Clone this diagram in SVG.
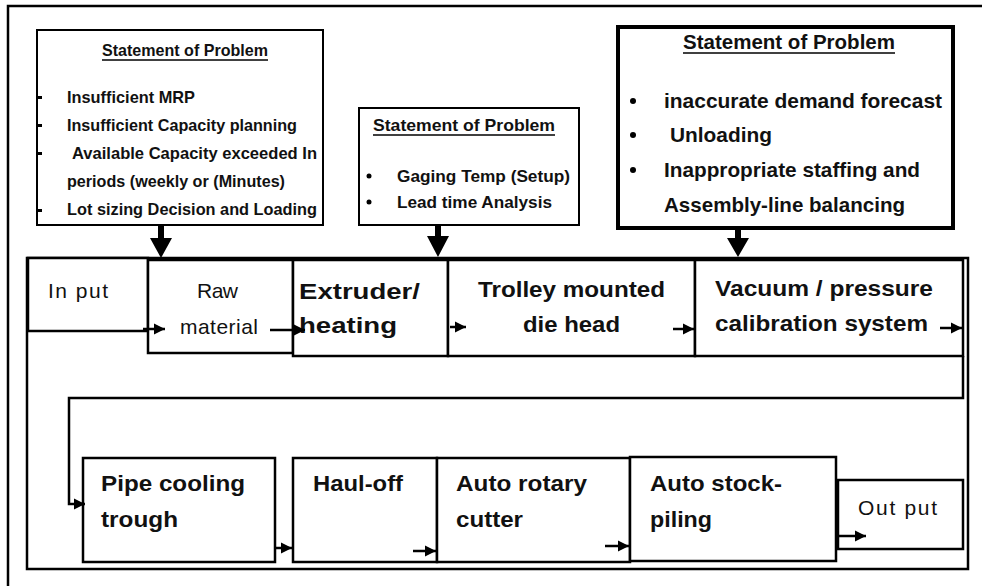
<svg xmlns="http://www.w3.org/2000/svg" width="982" height="586" viewBox="0 0 982 586">
  <style>
    .frame { fill: none; stroke: #000; stroke-width: 2.5; }
    .box { fill: #fff; stroke: #000; stroke-width: 2.5; }
    .sp { fill: #fff; stroke: #000; stroke-width: 2; }
    .sp-heavy { fill: #fff; stroke: #000; stroke-width: 4; }
    .conn { fill: none; stroke: #000; stroke-width: 2.5; }
    .uline { stroke: #000; stroke-width: 1.5; }
    text { font-family: "Liberation Sans", Arial, sans-serif; fill: #111; }
    .b { font-weight: bold; }
    .sm { font-size: 17px; }
    .md { font-size: 21px; }
    .lg { font-size: 22px; }
    .rg { font-size: 21px; font-weight: normal; }
    .dot { fill: #000; }
  </style>
  <defs>
    <marker id="ah" viewBox="0 0 10 10" refX="10" refY="5" markerWidth="4.5" markerHeight="4.5" markerUnits="strokeWidth" orient="auto">
      <path d="M0,0 L10,5 L0,10 Z" fill="#000"/>
    </marker>
  </defs>

  <rect width="982" height="586" fill="#fff"/>

  <!-- outer page frame -->
  <path class="frame" d="M8,586 V6 H982"/>

  <!-- statement of problem: planning -->
  <g id="problem-planning">
    <rect class="sp" x="37" y="30" width="286" height="195"/>
    <text class="b sm" x="102" y="56" textLength="166" lengthAdjust="spacingAndGlyphs">Statement of Problem</text>
    <line class="uline" x1="102" y1="60" x2="268" y2="60"/>
    <rect class="dot" x="37" y="96" width="5" height="3"/>
    <rect class="dot" x="37" y="124" width="5" height="3"/>
    <rect class="dot" x="37" y="152" width="5" height="3"/>
    <rect class="dot" x="37" y="209" width="5" height="3"/>
    <text class="b sm" x="67" y="103" textLength="128" lengthAdjust="spacingAndGlyphs">Insufficient MRP</text>
    <text class="b sm" x="67" y="131" textLength="230" lengthAdjust="spacingAndGlyphs">Insufficient Capacity planning</text>
    <text class="b sm" x="72" y="159" textLength="245" lengthAdjust="spacingAndGlyphs">Available Capacity exceeded  In</text>
    <text class="b sm" x="67" y="187" textLength="218" lengthAdjust="spacingAndGlyphs">periods (weekly or (Minutes)</text>
    <text class="b sm" x="67" y="215" textLength="250" lengthAdjust="spacingAndGlyphs">Lot sizing Decision and Loading</text>
  </g>

  <!-- statement of problem: setup -->
  <g id="problem-setup">
    <rect class="sp" x="359" y="108" width="220" height="117"/>
    <text class="b sm" x="373" y="131" textLength="182" lengthAdjust="spacingAndGlyphs">Statement of Problem</text>
    <line class="uline" x1="373" y1="135" x2="555" y2="135"/>
    <circle class="dot" cx="369" cy="176" r="2.5"/>
    <circle class="dot" cx="369" cy="202" r="2.5"/>
    <text class="b sm" x="397" y="182" textLength="173" lengthAdjust="spacingAndGlyphs">Gaging Temp (Setup)</text>
    <text class="b sm" x="397" y="208" textLength="155" lengthAdjust="spacingAndGlyphs">Lead time Analysis</text>
  </g>

  <!-- statement of problem: demand and staffing -->
  <g id="problem-demand">
    <rect class="sp-heavy" x="618" y="27" width="335" height="201"/>
    <text class="b md" x="683" y="49" textLength="212" lengthAdjust="spacingAndGlyphs">Statement of Problem</text>
    <line class="uline" x1="683" y1="53" x2="895" y2="53"/>
    <circle class="dot" cx="633" cy="101" r="3"/>
    <circle class="dot" cx="633" cy="135" r="3"/>
    <circle class="dot" cx="633" cy="170" r="3"/>
    <text class="b md" x="664" y="108" textLength="278" lengthAdjust="spacingAndGlyphs">inaccurate demand forecast</text>
    <text class="b md" x="670" y="142" textLength="102" lengthAdjust="spacingAndGlyphs">Unloading</text>
    <text class="b md" x="664" y="177" textLength="256" lengthAdjust="spacingAndGlyphs">Inappropriate staffing and</text>
    <text class="b md" x="664" y="212" textLength="241" lengthAdjust="spacingAndGlyphs">Assembly-line balancing</text>
  </g>

  <!-- process frame -->
  <rect id="process-frame" class="frame" x="27" y="258" width="941" height="311"/>

  <!-- upper process row -->
  <g id="input">
    <rect class="box" x="28" y="258" width="120" height="73"/>
    <text class="rg" x="48" y="298" textLength="60" lengthAdjust="spacing">In put</text>
  </g>
  <g id="raw-material">
    <rect class="box" x="148" y="260" width="145" height="93"/>
    <text class="rg" x="197" y="298" textLength="41" lengthAdjust="spacing">Raw</text>
    <text class="rg" x="180" y="334" textLength="78" lengthAdjust="spacing">material</text>
  </g>
  <g id="extruder">
    <rect class="box" x="293" y="260" width="155" height="96"/>
    <text class="b lg" x="299" y="299" textLength="121" lengthAdjust="spacingAndGlyphs">Extruder/</text>
    <text class="b lg" x="299" y="333" textLength="98" lengthAdjust="spacingAndGlyphs">heating</text>
  </g>
  <g id="die-head">
    <rect class="box" x="448" y="260" width="247" height="96"/>
    <text class="b lg" x="478" y="297" textLength="187" lengthAdjust="spacingAndGlyphs">Trolley mounted</text>
    <text class="b lg" x="523" y="332" textLength="97" lengthAdjust="spacingAndGlyphs">die head</text>
  </g>
  <g id="calibration">
    <rect class="box" x="695" y="260" width="268" height="96"/>
    <text class="b lg" x="715" y="296" textLength="218" lengthAdjust="spacingAndGlyphs">Vacuum / pressure</text>
    <text class="b lg" x="715" y="331" textLength="213" lengthAdjust="spacingAndGlyphs">calibration system</text>
  </g>

  <!-- lower process row -->
  <g id="cooling-trough">
    <rect class="box" x="83" y="458" width="192" height="104"/>
    <text class="b lg" x="101" y="491" textLength="144" lengthAdjust="spacingAndGlyphs">Pipe cooling</text>
    <text class="b lg" x="101" y="527" textLength="77" lengthAdjust="spacingAndGlyphs">trough</text>
  </g>
  <g id="haul-off">
    <rect class="box" x="293" y="458" width="144" height="104"/>
    <text class="b lg" x="313" y="491" textLength="90" lengthAdjust="spacingAndGlyphs">Haul-off</text>
  </g>
  <g id="rotary-cutter">
    <rect class="box" x="437" y="458" width="193" height="104"/>
    <text class="b lg" x="456" y="491" textLength="131" lengthAdjust="spacingAndGlyphs">Auto rotary</text>
    <text class="b lg" x="456" y="527" textLength="67" lengthAdjust="spacingAndGlyphs">cutter</text>
  </g>
  <g id="stock-piling">
    <rect class="box" x="630" y="457" width="206" height="104"/>
    <text class="b lg" x="650" y="491" textLength="132" lengthAdjust="spacingAndGlyphs">Auto stock-</text>
    <text class="b lg" x="650" y="527" textLength="62" lengthAdjust="spacingAndGlyphs">piling</text>
  </g>
  <g id="output">
    <rect class="box" x="838" y="480" width="125" height="69"/>
    <text class="rg" x="858" y="515" textLength="79" lengthAdjust="spacing">Out put</text>
  </g>

  <!-- connectors -->
  <g id="connectors">
    <!-- problem statements feeding the line -->
    <path d="M158,225 H164 V238 H172 L161,258 L150,238 H158 Z" fill="#000"/>
    <path d="M435,225 H441 V236 H449 L438,257 L427,236 H435 Z" fill="#000"/>
    <path d="M735,228 H741 V238 H749 L738,257 L727,238 H735 Z" fill="#000"/>

    <!-- upper row flow -->
    <path class="conn" d="M143,329 H165" marker-end="url(#ah)"/>
    <path class="conn" d="M270,330 H305" marker-end="url(#ah)"/>
    <path class="conn" d="M450,327 H466" marker-end="url(#ah)"/>
    <path class="conn" d="M673,329 H694" marker-end="url(#ah)"/>
    <path class="conn" d="M940,328 H962" marker-end="url(#ah)"/>

    <!-- return run to the lower row -->
    <path class="conn" d="M963,356 V398 H69 V504 H85" marker-end="url(#ah)"/>

    <!-- lower row flow -->
    <path class="conn" d="M275,548 H292" marker-end="url(#ah)"/>
    <path class="conn" d="M413,551 H436" marker-end="url(#ah)"/>
    <path class="conn" d="M605,546 H629" marker-end="url(#ah)"/>
    <path class="conn" d="M838,536 H866" marker-end="url(#ah)"/>
  </g>
</svg>
